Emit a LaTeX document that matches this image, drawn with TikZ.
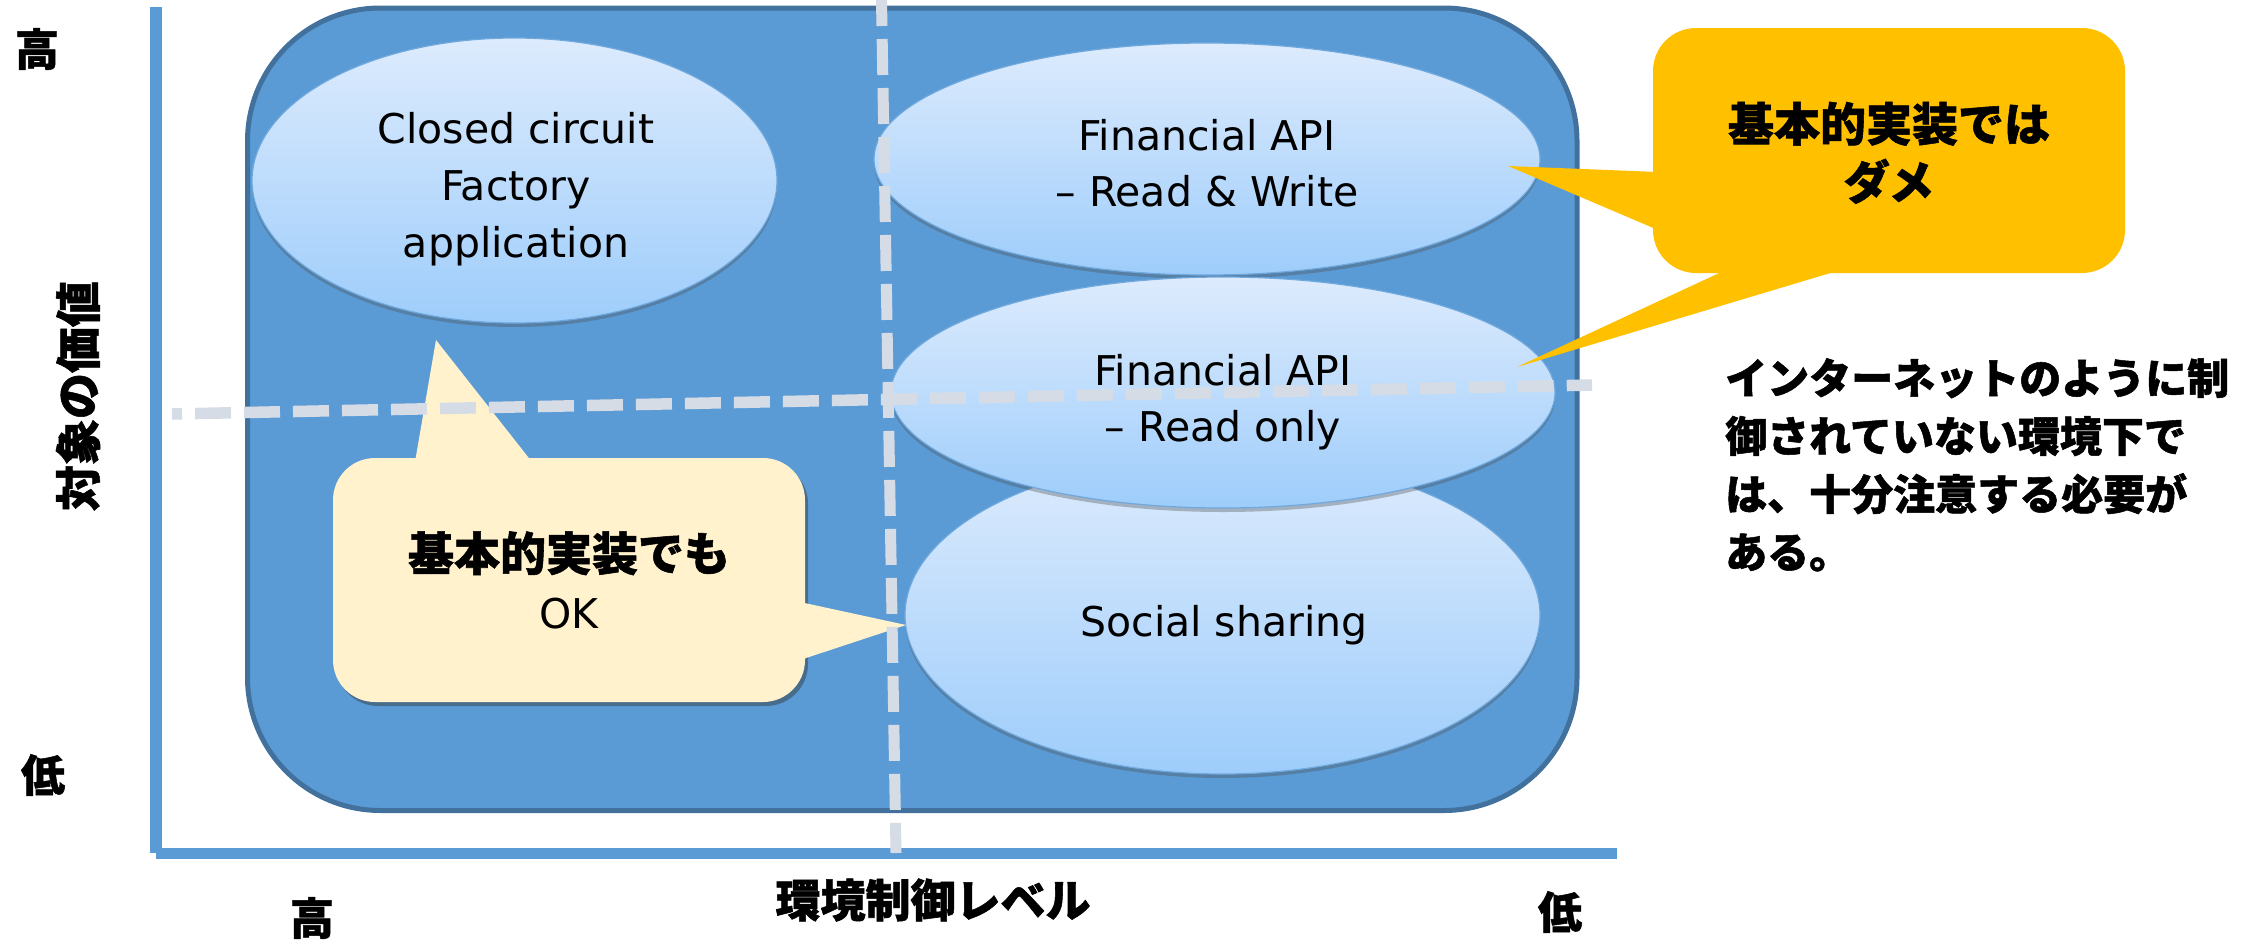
\documentclass[tikz,border=0pt]{standalone}
\usepackage{fontspec}
\newfontfamily\jpfont{Noto Sans CJK JP}[BoldFeatures={FakeBold=1.2}]
\newfontfamily\latfont{DejaVu Sans}
\usetikzlibrary{shapes.geometric,shadows}

\definecolor{axisblue}{HTML}{5B9BD5}
\definecolor{quadfill}{HTML}{5B9BD5}
\definecolor{quadedge}{HTML}{41719C}
\definecolor{dashgray}{HTML}{D6DCE5}
\definecolor{bubbletop}{HTML}{DDEBFD}
\definecolor{bubblebottom}{HTML}{9ECDFB}
\definecolor{bubbleedge}{HTML}{6FA8DC}
\definecolor{okfill}{HTML}{FFF2CC}
\definecolor{damefill}{HTML}{FFC000}

\begin{document}
\begin{tikzpicture}[x=1pt,y=-1pt,
  axisline/.style={draw=axisblue, line width=12pt},
  quadrant/.style={rectangle, draw=quadedge, fill=quadfill, line width=5pt,
    rounded corners=133pt, inner sep=0pt},
  bubble/.style={ellipse, inner sep=0pt, draw=bubbleedge, line width=1.2pt,
    top color=bubbletop, bottom color=bubblebottom,
    drop shadow={shadow xshift=0pt, shadow yshift=-4pt, opacity=0.35, fill=black!70}},
  dashline/.style={draw=dashgray, line width=11.5pt, dash pattern=on 36pt off 13pt},
  lat/.style={font={\latfont\fontsize{41}{57}\selectfont}, align=center,
    inner sep=0pt, text depth=0pt},
  jpb/.style={font={\jpfont\bfseries\fontsize{46}{58}\selectfont}, inner sep=0pt},
  okbox/.style={rectangle, fill=okfill, rounded corners=42pt, inner sep=0pt,
    align=center, text depth=0pt,
    font={\jpfont\bfseries\fontsize{46}{58}\selectfont},
    drop shadow={shadow xshift=3pt, shadow yshift=-4pt, opacity=0.45, fill=black!80}},
  damebox/.style={rectangle, fill=damefill, rounded corners=43pt, inner sep=0pt,
    align=center, text depth=0pt,
    font={\jpfont\bfseries\fontsize{46}{58}\selectfont}},
]
\useasboundingbox (0,0) rectangle (2243,940);

% axes
\coordinate (ytop) at (156,7);
\coordinate (ybot) at (156,853);
\coordinate (xorg) at (156,853.5);
\coordinate (xend) at (1617,853.5);
\draw[axisline] (ytop) -- (ybot);
\draw[axisline, line width=11pt] (xorg) -- (xend);

% axis labels
\node[jpb, font={\jpfont\bfseries\fontsize{44}{50}\selectfont}] (yhigh) at (37,49) {高};
\node[jpb, font={\jpfont\bfseries\fontsize{44}{50}\selectfont}] (ylow) at (43,775) {低};
\node[jpb, rotate=90] (ytitle) at (78,396) {対象の価値};
\node[jpb, font={\jpfont\bfseries\fontsize{44}{50}\selectfont}] (xhigh) at (312,918) {高};
\node[jpb, font={\jpfont\bfseries\fontsize{44}{50}\selectfont}] (xlow) at (1560,912) {低};
\node[jpb, font={\jpfont\bfseries\fontsize{45}{50}\selectfont}] (xtitle) at (933,900) {環境制御レベル};

% field of the matrix
\node[quadrant, minimum width=1329.5pt, minimum height=802.5pt] (field) at (912.25,409.25) {};

% use cases
\node[bubble, minimum width=525pt, minimum height=285pt] (closed) at (514.5,180.5) {};
\node[bubble, minimum width=666pt, minimum height=232pt] (rw) at (1207,159) {};
\node[bubble, minimum width=635pt, minimum height=318pt] (social) at (1222.5,615) {};
\node[bubble, minimum width=664pt, minimum height=231pt] (ro) at (1223,392.5) {};

% callout: basic implementation is fine
\node[okbox, minimum width=472pt, minimum height=244pt] (ok) at (569,580)
  {基本的実装でも\\{\mdseries\latfont\fontsize{41}{57}\selectfont OK}};
\coordinate (ok-up) at (436,340);
\coordinate (ok-right) at (906,625);
\fill[okfill] (415,462) -- (ok-up) -- (532,462) -- cycle;
\fill[okfill] (800,602) -- (ok-right) -- (800,660) -- cycle;

% callout: basic implementation is not enough
\node[damebox, minimum width=472pt, minimum height=245pt] (dame) at (1889,150.5)
  {基本的実装では\\ダメ};
\coordinate (dame-up) at (1508,166);
\coordinate (dame-low) at (1517,367);
\fill[damefill] (1658,172) -- (dame-up) -- (1658,230) -- cycle;
\fill[damefill] (1730,268) -- (dame-low) -- (1847,268) -- cycle;

% quadrant dividers
\coordinate (h-start) at (172,414);
\coordinate (h-end) at (1592,385);
\coordinate (v-start) at (881.5,0);
\coordinate (v-end) at (896,853);
\draw[dashline, dash phase=26pt] (h-start) -- (h-end);
\draw[dashline, line width=11pt, dash phase=10pt] (v-start) -- (v-end);

% labels of the use cases
\node[lat] (closed-t) at (516,185) {Closed circuit\\Factory\\application};
\node[lat, font={\latfont\fontsize{41}{56}\selectfont}] (rw-t) at (1207,163) {Financial API\\– Read \& Write};
\node[lat, font={\latfont\fontsize{41}{56}\selectfont}] (ro-t) at (1223,397.5) {Financial API\\– Read only};
\node[lat] (social-t) at (1224,620.5) {Social sharing};

% note
\node[jpb, anchor=north west, align=left, font={\jpfont\bfseries\fontsize{42}{58}\selectfont}] (note) at (1725,358)
  {インターネットのように制\\御されていない環境下で\\は、十分注意する必要が\\ある。};
\end{tikzpicture}
\end{document}
